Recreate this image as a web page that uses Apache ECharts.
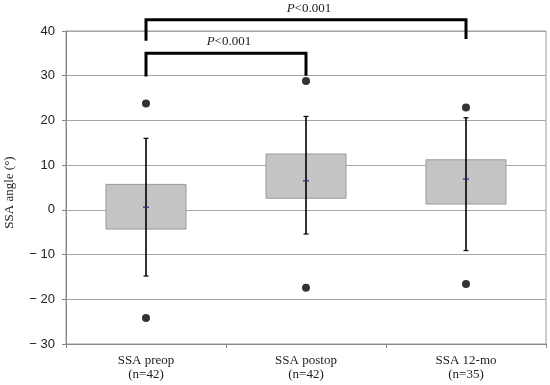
<!DOCTYPE html>
<html><head><meta charset="utf-8">
<script src="https://cdn.jsdelivr.net/npm/echarts@6/dist/echarts.min.js"></script>
<style>html,body{margin:0;padding:0;background:#fff}#c{width:550px;height:385px}</style>
</head><body><div id="c"></div>
<script>
const categories = ['SSA preop\n(n=42)', 'SSA postop\n(n=42)', 'SSA 12-mo\n(n=35)'];
const boxLow = [-4.3, 2.6, 1.3];
const boxHigh = [5.7, 12.5, 11.2];
const means = [0.6, 6.5, 6.9];
const whiskerLow = [-14.8, -5.4, -9.1];
const whiskerHigh = [16.0, 20.9, 20.6];
const outlierHigh = [23.8, 28.8, 22.9];
const outlierLow = [-24.2, -17.4, -16.6];
const bracketFrom = [0, 0];
const bracketTo = [1, 2];
const bracketTop = [35.0, 42.5];
const bracketLeftEnd = [29.8, 37.8];
const bracketRightEnd = [30.0, 38.2];
const bracketLabel = ['P<0.001', 'P<0.001'];
const yTicks = [-30, -20, -10, 0, 10, 20, 30, 40];

const serif = "'Liberation Serif', 'Times New Roman', serif";
const sans = "'Liberation Sans', Arial, sans-serif";

const boxData = categories.map((c, i) => [i, boxLow[i], boxHigh[i], means[i], whiskerLow[i], whiskerHigh[i]]);
const outliers = [];
categories.forEach((c, i) => { outliers.push([i, outlierHigh[i]]); outliers.push([i, outlierLow[i]]); });
const brackets = bracketFrom.map((f, i) => [f, bracketTo[i], bracketTop[i], bracketLeftEnd[i], bracketRightEnd[i], i]);

const chart = echarts.init(document.getElementById('c'));
chart.setOption({
  animation: false,
  grid: { left: 66, right: 4, top: 31, bottom: 41, show: true, borderColor: '#999', borderWidth: 1, outerBoundsMode: 'none', containLabel: false },
  xAxis: {
    type: 'category', data: categories, boundaryGap: true,
    axisLine: { onZero: false, lineStyle: { color: '#888', width: 1 } },
    axisTick: { show: true, length: 4, lineStyle: { color: '#888' } },
    axisLabel: { fontFamily: serif, fontSize: 13, color: '#222', lineHeight: 14, margin: 10 }
  },
  yAxis: {
    type: 'value', min: -30, max: 40, interval: 10,
    name: 'SSA angle (°)', nameLocation: 'middle', nameGap: 50,
    nameTextStyle: { fontFamily: serif, fontSize: 13, color: '#222', padding: [0, 10, 0, 0] },
    axisLine: { show: true, lineStyle: { color: '#888', width: 1 } },
    axisTick: { show: true, length: 4, lineStyle: { color: '#888' } },
    splitLine: { lineStyle: { color: '#a6a6a6', width: 1 } },
    axisLabel: { fontFamily: sans, fontSize: 13, color: '#222', margin: 11,
      formatter: v => yTicks.includes(v) ? (v < 0 ? '\u2212 ' + Math.abs(v) : String(v)) : '' }
  },
  series: [
    {
      type: 'custom', data: boxData, clip: false, z: 2,
      renderItem: (params, api) => {
        const x = api.value(0);
        const w = api.size([1, 0])[0] * 0.5;
        const pLow = api.coord([x, api.value(1)]);
        const pHigh = api.coord([x, api.value(2)]);
        const pMean = api.coord([x, api.value(3)]);
        const wLow = api.coord([x, api.value(4)]);
        const wHigh = api.coord([x, api.value(5)]);
        const cx = pLow[0];
        return { type: 'group', children: [
          { type: 'rect', shape: { x: cx - w / 2, y: pHigh[1], width: w, height: pLow[1] - pHigh[1] },
            style: { fill: '#c4c4c4', stroke: '#9a9a9a', lineWidth: 1 } },
          { type: 'line', shape: { x1: cx, y1: wHigh[1], x2: cx, y2: wLow[1] }, style: { stroke: '#000', lineWidth: 1.6 } },
          { type: 'line', shape: { x1: cx - 2.5, y1: wHigh[1], x2: cx + 2.5, y2: wHigh[1] }, style: { stroke: '#000', lineWidth: 1.2 } },
          { type: 'line', shape: { x1: cx - 2.5, y1: wLow[1], x2: cx + 2.5, y2: wLow[1] }, style: { stroke: '#000', lineWidth: 1.2 } },
          { type: 'line', shape: { x1: cx - 3, y1: pMean[1], x2: cx + 3, y2: pMean[1] }, style: { stroke: '#2a2a80', lineWidth: 1.2 } }
        ]};
      }
    },
    {
      type: 'scatter', data: outliers, symbol: 'circle', symbolSize: 8, z: 3,
      itemStyle: { color: '#000' }
    },
    {
      type: 'custom', data: brackets, clip: false, z: 4,
      renderItem: (params, api) => {
        const a = api.coord([api.value(0), api.value(2)]);
        const b = api.coord([api.value(1), api.value(2)]);
        const la = api.coord([api.value(0), api.value(3)]);
        const rb = api.coord([api.value(1), api.value(4)]);
        const idx = api.value(5);
        return { type: 'group', children: [
          { type: 'polyline', shape: { points: [[la[0], la[1]], [a[0], a[1]], [b[0], b[1]], [rb[0], rb[1]]] },
            style: { stroke: '#000', lineWidth: 3, fill: null } },
          { type: 'text', x: (a[0] + b[0]) / 2 + 3, y: a[1] - 5,
            style: { text: '{i|P}{n|' + bracketLabel[idx].slice(1) + '}', align: 'center', verticalAlign: 'bottom',
              rich: { i: { fontFamily: serif, fontSize: 13, fontStyle: 'italic', fill: '#222' },
                      n: { fontFamily: serif, fontSize: 13, fill: '#222' } } } }
        ]};
      }
    }
  ]
});
</script></body></html>
